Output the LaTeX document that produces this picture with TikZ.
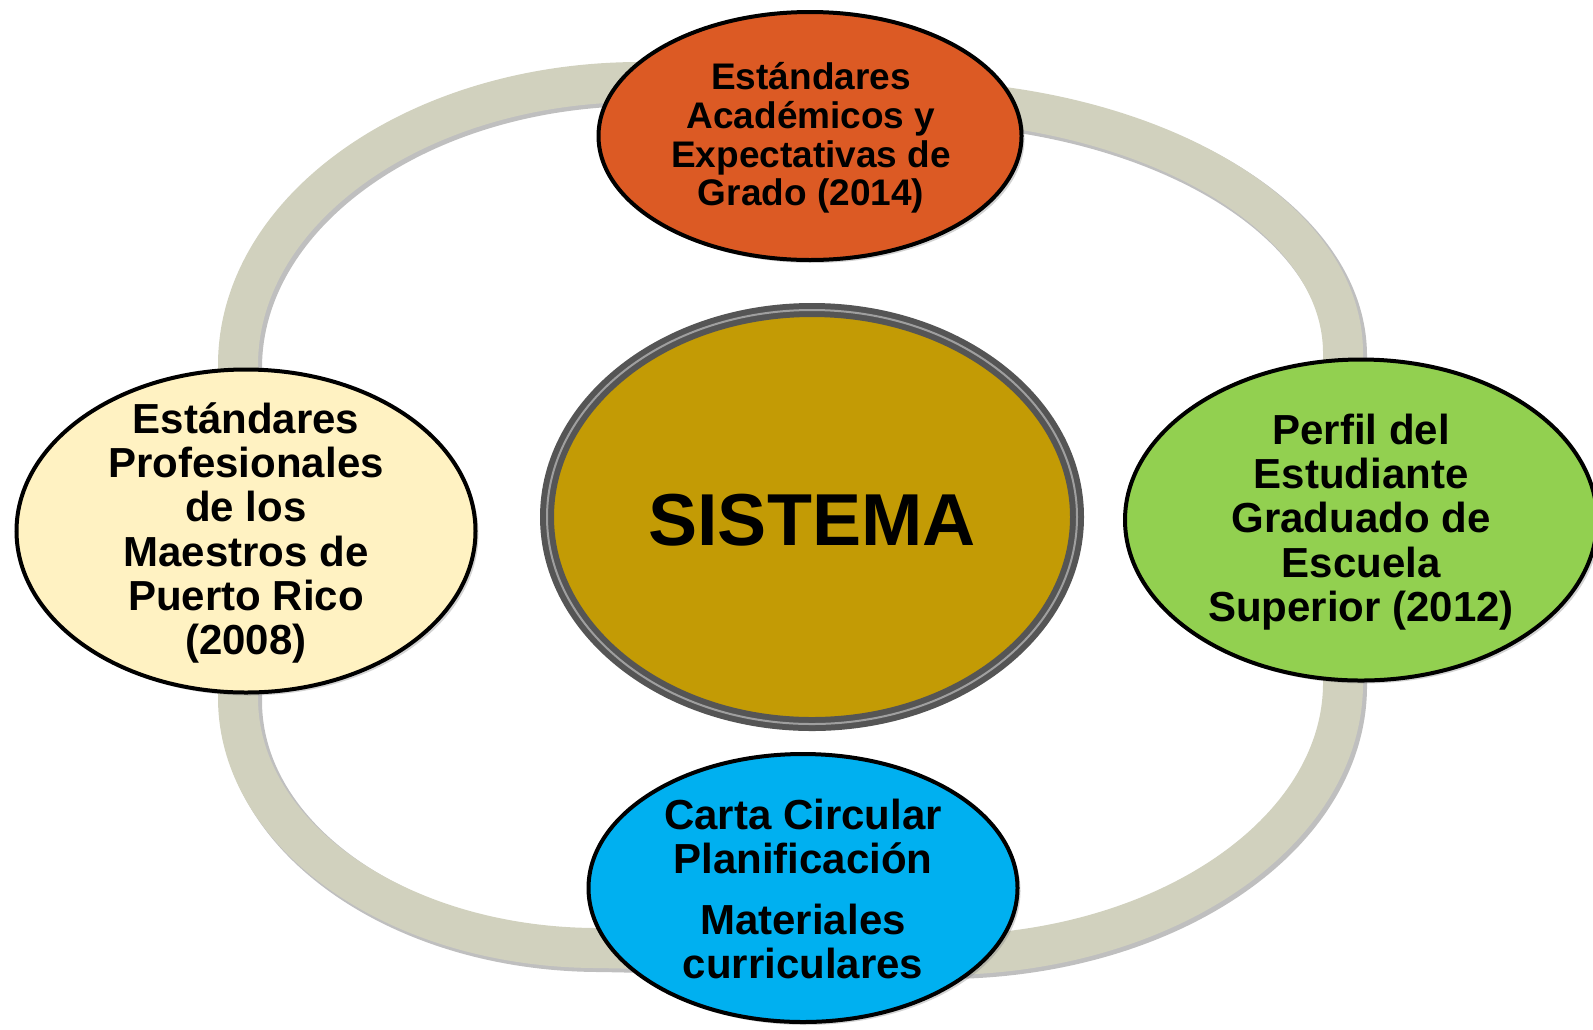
\documentclass[tikz,border=0pt]{standalone}
\usepackage{fontspec}
\setmainfont{Liberation Sans}
\usetikzlibrary{shapes.geometric,shadows}
\definecolor{ringc}{HTML}{D1D1BE}
\definecolor{orangec}{HTML}{DC5A24}
\definecolor{yellowc}{HTML}{FFF2C2}
\definecolor{greenc}{HTML}{92D050}
\definecolor{bluec}{HTML}{00B0F0}
\definecolor{goldc}{HTML}{C39B05}
\definecolor{rimc}{HTML}{555555}
\tikzset{
  ell/.style={ellipse, draw=black, line width=2pt, inner sep=0pt,
    drop shadow={opacity=0.35, shadow xshift=1.5pt, shadow yshift=-1.5pt}},
  smalltxt/.style={align=center, font=\fontsize{18.5}{19.3}\selectfont\bfseries},
  bigtxt/.style={align=center, font=\fontsize{21}{22.1}\selectfont\bfseries},
  ringpath/.style={line join=round},
}
\newcommand{\ringshape}{(238,365) arc[start angle=180,end angle=270,x radius=402,y radius=283]
  -- (900,100) arc[start angle=270,end angle=360,x radius=443,y radius=253]
  -- (1343,683) arc[start angle=0,end angle=90,x radius=403,y radius=272]
  -- (598,948) arc[start angle=90,end angle=180,x radius=360,y radius=250]
  -- cycle}
\begin{document}
\begin{tikzpicture}[x=0.5pt,y=-0.5pt]
\useasboundingbox (0,0) rectangle (1593,1029);
% ring shadow and ring
\draw[ringpath, black, opacity=0.25, line width=21pt, shift={(3,3)}] \ringshape;
\draw[ringpath, ringc, line width=20pt] \ringshape;
% center
\node[ellipse, draw=rimc, line width=7pt, fill=goldc, inner sep=0pt,
  minimum width=265pt, minimum height=207pt,
  drop shadow={opacity=0.3, shadow xshift=2pt, shadow yshift=-2pt}] (sis) at (812,517) {};
\draw[gray!75, line width=1pt] (812,517) ellipse [x radius=265, y radius=207];
\node[font=\fontsize{36.8}{40}\selectfont\bfseries] (sistxt) at (812,520) {SISTEMA};
% outer nodes
\node[ell, fill=orangec, minimum width=211.5pt, minimum height=124pt] (top) at (810,136) {};
\node[smalltxt] (toptxt) at (811,138) {Estándares\\Académicos y\\Expectativas de\\Grado (2014)};
\node[ell, fill=yellowc, minimum width=229.5pt, minimum height=161.5pt] (left) at (246,531) {};
\node[bigtxt] (lefttxt) at (246,533) {Estándares\\Profesionales\\de los\\Maestros de\\Puerto Rico\\(2008)};
\node[ell, fill=greenc, minimum width=236pt, minimum height=160.5pt] (right) at (1361,520) {};
\node[bigtxt] (righttxt) at (1361,522) {Perfil del\\Estudiante\\Graduado de\\Escuela\\Superior (2012)};
\node[ell, fill=bluec, minimum width=214.5pt, minimum height=134pt] (bot) at (803,888) {};
\node[bigtxt] (bottxt) at (803,889) {Carta Circular\\Planificación\\[8pt]Materiales\\curriculares};
\end{tikzpicture}
\end{document}
